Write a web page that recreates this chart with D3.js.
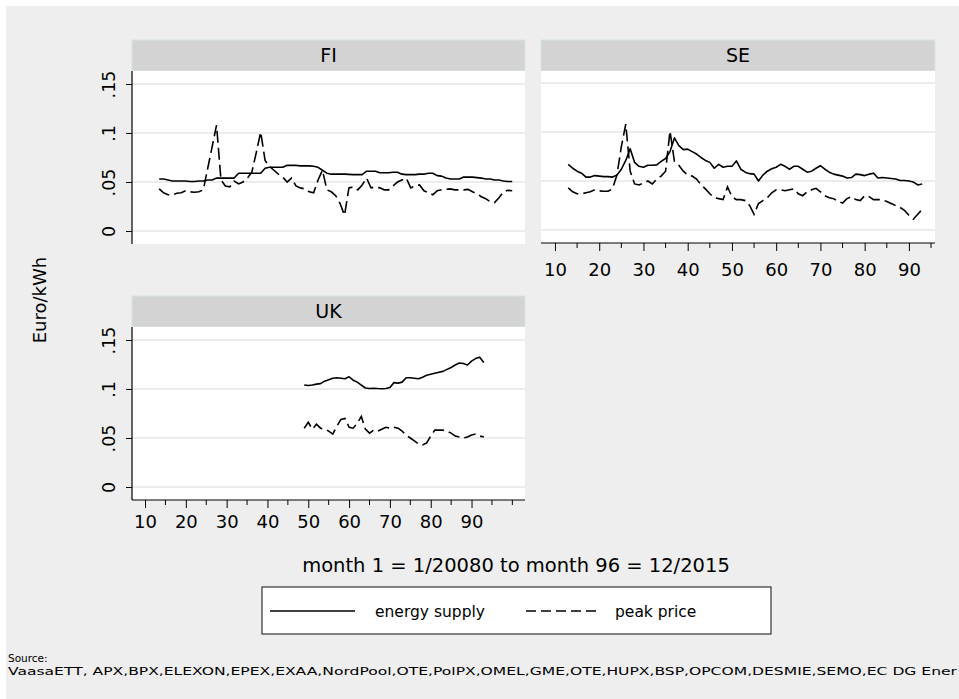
<!DOCTYPE html>
<html><head><meta charset="utf-8">
<script src="https://cdn.jsdelivr.net/npm/d3@7"></script>
<style>body{margin:0;background:#fff}text{font-family:"DejaVu Sans",Verdana,sans-serif;fill:#000}</style>
</head><body><svg id="c" width="959" height="699"></svg>
<script>
// ---------------- data ----------------
const monthsNordic = d3.range(13, 94);   // months 13..93
const monthsUK = d3.range(49, 94);       // months 49..93

const fiSupply = [.053,.053,.052,.051,.051,.051,.051,.0505,.0505,.051,
  .051,.052,.052,.054,.054,.054,.054,.054,.059,.059,
  .059,.059,.059,.059,.064,.065,.065,.065,.065,.067,
  .067,.067,.0665,.0665,.0665,.066,.065,.062,.059,.058,
  .058,.058,.058,.0578,.0575,.0575,.0575,.061,.061,.061,
  .0595,.0595,.0595,.060,.060,.058,.0575,.0575,.0575,.058,
  .058,.059,.059,.0565,.056,.054,.053,.053,.053,.055,
  .055,.055,.0545,.054,.053,.053,.052,.052,.051,.0505,
  .0505];
const fiPeak = [.043,.039,.037,.037,.0385,.039,.041,.040,.0395,.040,
  .042,.064,.086,.108,.052,.046,.045,.051,.048,.050,
  .054,.060,.080,.101,.072,.066,.062,.058,.055,.050,
  .054,.046,.044,.043,.040,.039,.052,.062,.042,.040,
  .036,.028,.016,.044,.045,.042,.047,.054,.044,.045,
  .044,.042,.042,.046,.050,.052,.054,.044,.046,.047,
  .041,.039,.037,.041,.042,.0425,.043,.042,.042,.042,
  .0425,.040,.038,.035,.033,.030,.029,.034,.040,.0415,
  .041];
const seSupply = [.067,.063,.060,.058,.054,.054,.0555,.055,.0545,.0545,
  .054,.056,.062,.071,.083,.069,.065,.064,.066,.066,
  .0665,.070,.073,.080,.094,.086,.082,.0825,.080,.0775,
  .074,.071,.069,.063,.067,.064,.065,.065,.0705,.062,
  .059,.0575,.057,.050,.056,.060,.0625,.064,.067,.065,
  .062,.065,.065,.062,.059,.060,.063,.0656,.062,.059,
  .057,.056,.055,.053,.0535,.057,.0565,.0555,.057,.058,
  .053,.0535,.053,.0525,.052,.0505,.0505,.050,.049,.046,
  .047];
const sePeak = [.043,.039,.037,.037,.038,.039,.041,.040,.0395,.0395,
  .042,.056,.085,.108,.060,.047,.046,.048,.050,.047,
  .052,.055,.060,.101,.070,.066,.060,.056,.055,.052,
  .046,.042,.037,.033,.032,.031,.044,.034,.031,.031,
  .030,.025,.016,.027,.030,.033,.038,.041,.041,.040,
  .041,.042,.037,.035,.039,.041,.0425,.039,.035,.033,
  .032,.029,.0275,.032,.034,.031,.030,.035,.034,.031,
  .031,.031,.029,.027,.025,.023,.020,.015,.011,.016,
  .021];
const ukSupply = [.104,.1035,.104,.105,.1055,.108,.1095,.111,.1115,.111,
  .1105,.1125,.109,.107,.104,.101,.1005,.1008,.1005,.1003,
  .1005,.1015,.1065,.106,.107,.1115,.1115,.111,.1105,.112,
  .114,.115,.116,.117,.118,.120,.122,.1245,.1265,.126,
  .1245,.1285,.131,.1325,.127];
const ukPeak = [.060,.066,.059,.064,.060,.059,.057,.054,.062,.069,
  .070,.061,.060,.065,.072,.059,.055,.058,.057,.059,
  .061,.060,.061,.060,.057,.053,.050,.047,.044,.043,
  .045,.052,.058,.058,.058,.057,.055,.052,.051,.050,
  .051,.053,.054,.052,.051];

const yTicks = [0, 0.05, 0.1, 0.15];
const yTickLabels = ["0", ".05", ".1", ".15"];
const xMajorTicks = [10, 20, 30, 40, 50, 60, 70, 80, 90];
const xTickLabels = ["10", "20", "30", "40", "50", "60", "70", "80", "90"];
const xMinorTicksNordic = [15, 25, 35, 45, 55, 65, 75, 85, 95];
const xMinorTicksUK = [15, 25, 35, 45, 55, 65, 75, 85, 95, 100];
const seriesNames = ["energy supply", "peak price"];
const panelNames = ["FI", "SE", "UK"];
const yTitle = "Euro/kWh";
const xTitle = "month 1 = 1/20080 to month 96 = 12/2015";
const sourceLines = ["Source:", "VaasaETT, APX,BPX,ELEXON,EPEX,EXAA,NordPool,OTE,PolPX,OMEL,GME,OTE,HUPX,BSP,OPCOM,DESMIE,SEMO,EC DG Ener"];

// ---------------- layout ----------------
const svg = d3.select("#c");
svg.append("rect").attr("width", 959).attr("height", 699).attr("fill", "#fff");
svg.append("rect").attr("x", 6).attr("y", 6).attr("width", 953).attr("height", 693).attr("fill", "#eeeeee");

const yDomain = [-13/980, 160/980];
const panels = [
  {name: panelNames[0], months: monthsNordic, supply: fiSupply, peak: fiPeak,
   x0: 132, x1: 525, top: 71, bottom: 244, xDomain: [6.84, 95.9], showY: true, showX: false, minor: xMinorTicksNordic, labY: 33},
  {name: panelNames[1], months: monthsNordic, supply: seSupply, peak: sePeak,
   x0: 541, x1: 935, top: 71, bottom: 243, xDomain: [6.84, 95.9], showY: false, showX: true, minor: xMinorTicksNordic, labY: 33},
  {name: panelNames[2], months: monthsUK, supply: ukSupply, peak: ukPeak,
   x0: 132, x1: 525, top: 327, bottom: 500, xDomain: [6.81, 103.1], showY: true, showX: true, minor: xMinorTicksUK, labY: 28}
];

panels.forEach(p => {
  const g = svg.append("g");
  const x = d3.scaleLinear().domain(p.xDomain).range([p.x0, p.x1]);
  const y = d3.scaleLinear().domain(yDomain).range([p.bottom, p.bottom - 173]);
  g.append("rect").attr("x", p.x0).attr("y", p.top - 31).attr("width", p.x1 - p.x0).attr("height", 31)
    .attr("fill", "#d3d3d3").attr("stroke", "#d6e4ec").attr("stroke-width", 1);
  g.append("text").attr("x", (p.x0 + p.x1) / 2).attr("y", p.top - 9).attr("text-anchor", "middle")
    .attr("font-size", 19).text(p.name);
  g.append("rect").attr("x", p.x0).attr("y", p.top).attr("width", p.x1 - p.x0).attr("height", p.bottom - p.top)
    .attr("fill", "#fff");
  g.selectAll(".grid").data(yTicks).join("line")
    .attr("x1", p.x0).attr("x2", p.x1).attr("y1", d => y(d)).attr("y2", d => y(d))
    .attr("stroke", "#e6e6e6").attr("stroke-width", 1.5);
  const line = d3.line().x((d, i) => x(p.months[i])).y(d => y(d));
  g.append("path").attr("d", line(p.supply)).attr("fill", "none").attr("stroke", "#000").attr("stroke-width", 1.6)
    .attr("stroke-linejoin", "round");
  g.append("path").attr("d", line(p.peak)).attr("fill", "none").attr("stroke", "#000").attr("stroke-width", 1.6)
    .attr("stroke-dasharray", "12,5");
  if (p.showY) {
    const ay = g.append("g").attr("transform", `translate(${p.x0},0)`)
      .call(d3.axisLeft(y).tickValues(yTicks).tickFormat((d, i) => yTickLabels[i]).tickSize(6).tickSizeOuter(0));
    ay.select(".domain").remove();
    ay.append("line").attr("x1", 0).attr("x2", 0).attr("y1", p.top).attr("y2", p.bottom).attr("stroke", "#000").attr("stroke-width", 1.2);
    ay.selectAll(".tick line").attr("stroke", "#000");
    ay.selectAll(".tick text").attr("transform", "rotate(-90)").attr("x", 0).attr("y", -17).attr("dy", 0)
      .attr("text-anchor", "middle").attr("font-size", 17.5).attr("font-family", "DejaVu Sans");
  }
  if (p.showX) {
    const ax = g.append("g").attr("transform", `translate(0,${p.bottom})`)
      .call(d3.axisBottom(x).tickValues(xMajorTicks).tickFormat((d, i) => xTickLabels[i]).tickSize(8).tickSizeOuter(0));
    ax.select(".domain").remove();
    ax.append("line").attr("x1", p.x0).attr("x2", p.x1).attr("y1", 0).attr("y2", 0).attr("stroke", "#000").attr("stroke-width", 1.2);
    ax.selectAll(".tick line").attr("stroke", "#000");
    ax.selectAll(".tick text").attr("y", p.labY).attr("dy", 0).attr("font-size", 18).attr("font-family", "DejaVu Sans");
    ax.selectAll(".minor").data(p.minor).join("line").attr("class", "minor")
      .attr("x1", d => x(d)).attr("x2", d => x(d)).attr("y1", 0).attr("y2", 5).attr("stroke", "#000");
  }
});

svg.append("text").attr("transform", "translate(46,300) rotate(-90)").attr("text-anchor", "middle")
  .attr("font-size", 18).text(yTitle);
svg.append("text").attr("x", 516).attr("y", 572).attr("text-anchor", "middle").attr("font-size", 19.5).text(xTitle);

const lg = svg.append("g");
lg.append("rect").attr("x", 262).attr("y", 587).attr("width", 509).attr("height", 47).attr("fill", "#fff")
  .attr("stroke", "#333").attr("stroke-width", 1.2);
const legendItems = [
  {label: seriesNames[0], x1: 270, x2: 355, tx: 375, dash: null},
  {label: seriesNames[1], x1: 526, x2: 600, tx: 615, dash: "10,5"}
];
legendItems.forEach(it => {
  lg.append("line").attr("x1", it.x1).attr("x2", it.x2).attr("y1", 611).attr("y2", 611)
    .attr("stroke", "#000").attr("stroke-width", 1.6).attr("stroke-dasharray", it.dash);
  lg.append("text").attr("x", it.tx).attr("y", 617).attr("font-size", 15.5).text(it.label);
});

svg.selectAll(".src").data(sourceLines).join("text").attr("class", "src")
  .attr("x", 8).attr("y", (d, i) => 662 + i * 13).attr("font-size", 10.5)
  .attr("textLength", (d, i) => i === 1 ? 949 : null)
  .attr("lengthAdjust", "spacingAndGlyphs")
  .text(d => d);
</script></body></html>
